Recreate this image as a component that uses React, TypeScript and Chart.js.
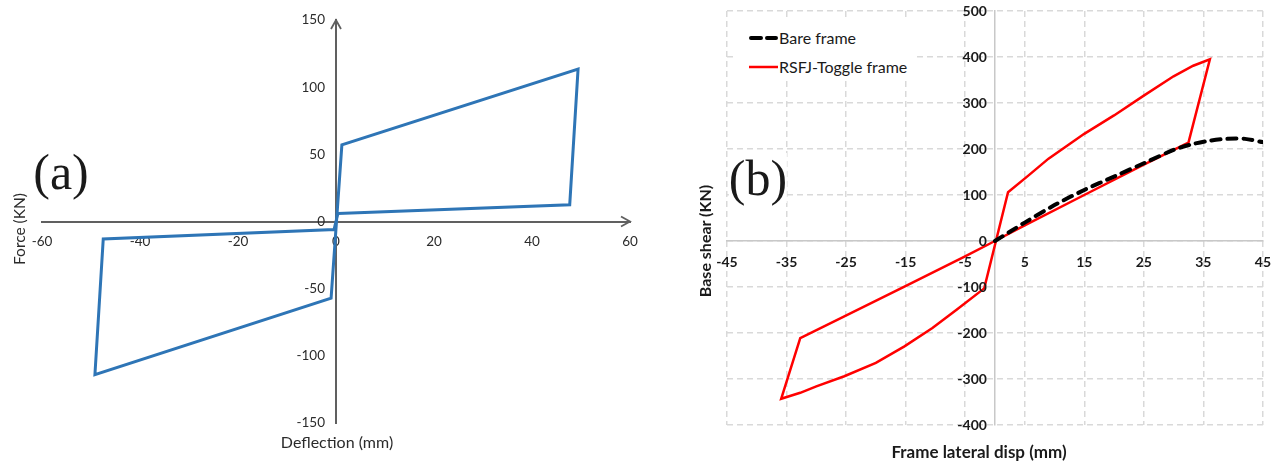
import React, { useEffect, useRef } from 'react';
import { Chart, registerables } from 'chart.js';

Chart.register(...registerables);

// ---------- Panel (a) data ----------
const aDeflection = [0.4, 47.7, 49.4, 1.2, -1.0, -49.2, -47.5, -0.4, 0.4];
const aForce = [6, 12.5, 113.5, 57, -57, -114, -13, -6, 6];
const aXTicks = [-60, -40, -20, 0, 20, 40, 60];
const aYTicks = [-150, -100, -50, 0, 50, 100, 150];

// ---------- Panel (b) data ----------
const bareDisp = [0, 2.5, 5, 10, 15, 20, 25, 30, 33, 36, 39, 42, 45];
const bareShear = [0, 20, 40, 78, 111, 140, 169, 198, 210, 218, 222, 222, 215];
const rsfjDisp = [0, 5, 15, 25, 32.5, 36.1, 33.3, 30, 25, 20, 15, 9, 5.5, 2.2, -1.8, -6.5, -10.5, -15.2, -20, -25.3, -30, -32.7, -35.9, -32.7, -25.3, -15.2, -5.1, 0];
const rsfjShear = [0, 34, 100, 166, 214, 395, 381, 358, 316, 273, 233, 179, 141, 106, -103, -150, -189, -229, -265, -294, -316, -330, -343, -211, -164, -99, -34, 0];
const bXTicks = [-45, -35, -25, -15, -5, 5, 15, 25, 35, 45];
const bYTicks = [-400, -300, -200, -100, 0, 100, 200, 300, 400, 500];

const toPoints = (xs: number[], ys: number[]) => xs.map((x, i) => ({ x, y: ys[i] }));

const yLabelsPlugin = {
  id: 'yLabelsAtZero',
  afterDraw(chart: any, _args: any, opts: any) {
    const ys = chart.scales.y;
    const xs = chart.scales.x;
    const ctx = chart.ctx;
    const px = xs.getPixelForValue(0) - opts.gap;
    ctx.save();
    ctx.font = opts.font;
    ctx.fillStyle = opts.color;
    ctx.textAlign = 'right';
    ctx.textBaseline = 'middle';
    ys.ticks.forEach((t: any) => {
      ctx.fillText(String(t.value), px, ys.getPixelForValue(t.value));
    });
    ctx.restore();
  },
};

const arrowPlugin = {
  id: 'axisArrows',
  afterDraw(chart: any, _args: any, opts: any) {
    const { ctx, chartArea, scales } = chart;
    const x0 = scales.x.getPixelForValue(0);
    const y0 = scales.y.getPixelForValue(0);
    ctx.save();
    ctx.strokeStyle = opts.color;
    ctx.lineWidth = opts.width;
    ctx.beginPath();
    ctx.moveTo(chartArea.right - 9, y0 - 5);
    ctx.lineTo(chartArea.right, y0);
    ctx.lineTo(chartArea.right - 9, y0 + 5);
    ctx.moveTo(x0 - 5, chartArea.top + 9);
    ctx.lineTo(x0, chartArea.top);
    ctx.lineTo(x0 + 5, chartArea.top + 9);
    ctx.stroke();
    ctx.restore();
  },
};

const Label = ({ x, y, text, font, color = '#333', rotate = false, bg }: any) => (
  <div
    style={{
      position: 'absolute',
      left: x,
      top: y,
      transform: `translate(-50%, -50%)${rotate ? ' rotate(-90deg)' : ''}`,
      font,
      color,
      whiteSpace: 'nowrap',
      lineHeight: 1,
      background: bg,
    }}
  >
    {text}
  </div>
);

export default function App() {
  const refA = useRef<HTMLCanvasElement>(null);
  const refB = useRef<HTMLCanvasElement>(null);

  useEffect(() => {
    const axisColA = '#606060';
    const chartA = new Chart(refA.current as HTMLCanvasElement, {
      type: 'scatter',
      data: {
        datasets: [
          {
            data: toPoints(aDeflection, aForce),
            showLine: true,
            borderColor: '#2E75B6',
            borderWidth: 3,
            pointRadius: 0,
            tension: 0,
            fill: false,
          },
        ],
      },
      options: {
        responsive: false,
        animation: false,
        layout: { padding: { left: 42, right: 20, top: 20, bottom: 39 } },
        plugins: {
          legend: { display: false },
          tooltip: { enabled: false },
          yLabelsAtZero: { gap: 11, font: '13.5px Lato', color: '#2b2b2b' },
          axisArrows: { color: axisColA, width: 1.8 },
        } as any,
        scales: {
          x: {
            type: 'linear',
            min: -60,
            max: 60,
            position: { y: 0 } as any,
            afterBuildTicks: (s: any) => {
              s.ticks = aXTicks.map((v) => ({ value: v }));
            },
            grid: { display: false, drawTicks: false },
            border: { display: true, color: axisColA, width: 2 },
            ticks: { padding: 12, color: '#2b2b2b', font: { family: 'Lato', size: 13.5 }, autoSkip: false, maxRotation: 0 },
          },
          y: {
            type: 'linear',
            min: -150,
            max: 150,
            position: { x: 0 } as any,
            afterBuildTicks: (s: any) => {
              s.ticks = aYTicks.map((v) => ({ value: v }));
            },
            grid: { display: false, drawTicks: false },
            border: { display: true, color: axisColA, width: 2 },
            ticks: { display: false },
          },
        },
      },
      plugins: [yLabelsPlugin, arrowPlugin],
    });

    const gridCol = '#d9d9d9';
    const chartB = new Chart(refB.current as HTMLCanvasElement, {
      type: 'scatter',
      data: {
        datasets: [
          {
            label: 'Bare frame',
            data: toPoints(bareDisp, bareShear),
            showLine: true,
            borderColor: '#000000',
            borderWidth: 4,
            borderDash: [9, 7],
            borderCapStyle: 'round',
            pointRadius: 0,
            tension: 0.3,
            fill: false,
          },
          {
            label: 'RSFJ-Toggle frame',
            data: toPoints(rsfjDisp, rsfjShear),
            showLine: true,
            borderColor: '#FF0000',
            borderWidth: 2.5,
            pointRadius: 0,
            tension: 0,
            fill: false,
          },
        ],
      },
      options: {
        responsive: false,
        animation: false,
        layout: { padding: { left: 77, right: 17, top: 11, bottom: 37 } },
        plugins: {
          legend: { display: false },
          tooltip: { enabled: false },
          yLabelsAtZero: { gap: 8, font: 'bold 14px Lato', color: '#1a1a1a' },
        } as any,
        scales: {
          x: {
            type: 'linear',
            min: -45,
            max: 45,
            position: { y: 0 } as any,
            afterBuildTicks: (s: any) => {
              s.ticks = bXTicks.map((v) => ({ value: v }));
            },
            grid: { display: true, color: gridCol, lineWidth: 1.5, drawTicks: false },
            border: { display: true, color: '#c8c8c8', width: 1.5, dash: [6, 4] },
            ticks: { padding: 13, color: '#1a1a1a', font: { family: 'Lato', size: 14, weight: 'bold' }, autoSkip: false, maxRotation: 0 },
          },
          y: {
            type: 'linear',
            min: -400,
            max: 500,
            position: { x: 0 } as any,
            afterBuildTicks: (s: any) => {
              s.ticks = bYTicks.map((v) => ({ value: v }));
            },
            grid: { display: true, color: gridCol, lineWidth: 1.5, drawTicks: false },
            border: { display: true, color: '#c8c8c8', width: 1.5, dash: [6, 4] },
            ticks: { display: false },
          },
        },
      },
      plugins: [yLabelsPlugin],
    });

    return () => {
      chartA.destroy();
      chartB.destroy();
    };
  }, []);

  return (
    <div style={{ position: 'absolute', left: 0, top: 0, width: 1284, height: 462, background: '#fff', overflow: 'hidden' }}>
      <canvas ref={refA} width={650} height={462} style={{ position: 'absolute', left: 0, top: 0, width: 650, height: 462 }} />
      <canvas ref={refB} width={634} height={462} style={{ position: 'absolute', left: 650, top: 0, width: 634, height: 462 }} />

      {/* Panel (a) texts */}
      <Label x={61} y={172} text="(a)" font="50px 'Liberation Serif'" color="#1a1a1a" />
      <Label x={20} y={229} text="Force (KN)" font="15.5px Lato" color="#2b2b2b" rotate />
      <Label x={337} y={442} text="Deflection (mm)" font="16px Lato" color="#2b2b2b" />

      {/* Panel (b) texts */}
      <Label x={758} y={178} text="(b)" font="50px 'Liberation Serif'" color="#1a1a1a" bg="#fff" />
      <Label x={705} y={241} text="Base shear (KN)" font="bold 16px Lato" color="#1a1a1a" rotate />
      <Label x={979} y={451} text="Frame lateral disp (mm)" font="bold 17px Lato" color="#1a1a1a" />

      {/* Legend (b) */}
      <div style={{ position: 'absolute', left: 733, top: 21, width: 183, height: 58, background: '#fff' }} />
      <svg style={{ position: 'absolute', left: 745, top: 28, width: 40, height: 48 }} width={40} height={48}>
        <line x1={6} y1={10} x2={31} y2={10} stroke="#000" strokeWidth={4} strokeDasharray="10 6" strokeLinecap="round" />
        <line x1={4} y1={39} x2={33} y2={39} stroke="#FF0000" strokeWidth={2.5} />
      </svg>
      <div style={{ position: 'absolute', left: 779, top: 38, transform: 'translateY(-50%)', font: '16px Lato', color: '#1a1a1a', whiteSpace: 'nowrap', lineHeight: 1 }}>Bare frame</div>
      <div style={{ position: 'absolute', left: 779, top: 67, transform: 'translateY(-50%)', font: '16px Lato', color: '#1a1a1a', whiteSpace: 'nowrap', lineHeight: 1 }}>RSFJ-Toggle frame</div>
    </div>
  );
}
